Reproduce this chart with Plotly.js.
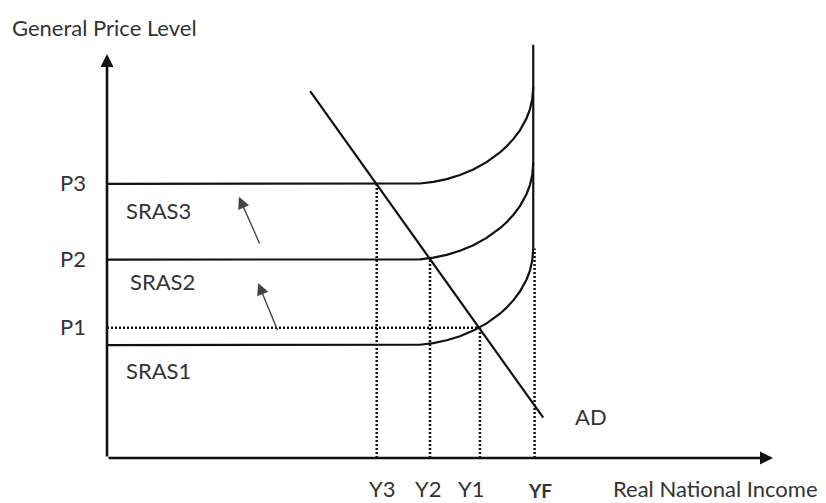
<!DOCTYPE html>
<html>
<head>
<meta charset="utf-8">
<script src="https://cdn.plot.ly/plotly-3.0.1.min.js"></script>
<style>html,body{margin:0;padding:0;background:#fff;}#chart{width:826px;height:503px;}</style>
</head>
<body>
<div id="chart"></div>
<script>
// Price levels and income levels (chart units)
const priceLabels = ["P1", "P2", "P3"];
const priceValues = [32.3, 49.2, 68.0];
const incomeLabels = ["Y3", "Y2", "Y1", "YF"];
const incomeValues = [40.5, 48.5, 56.0, 64.2];

// SRAS curves (flat, then bending up into vertical at full employment)
const srasX  = [0, 45, 47, 49, 51, 53, 55, 57, 59, 60, 61, 62, 63, 63.5, 63.85, 64];
const sras1Y = [28.0, 28.0, 28.1, 28.5, 29.2, 30.2, 31.6, 33.4, 35.8, 37.3, 39.1, 41.3, 44.3, 46.5, 49.0, 52.0];
const sras2Y = [49.2, 49.2, 49.3, 49.7, 50.4, 51.4, 52.8, 54.6, 57.0, 58.5, 60.3, 62.5, 65.5, 67.7, 70.2, 73.2];
const sras3Y = [68.0, 68.0, 68.1, 68.5, 69.2, 70.2, 71.6, 73.4, 75.8, 77.3, 79.1, 81.3, 84.3, 86.5, 89.0, 92.0];

// Vertical long-run supply at YF (solid part)
const lrasX = [64, 64];
const lrasY = [52.0, 102.5];

// Aggregate demand
const adX = [30.5, 65.5];
const adY = [91.0, 10.0];

// Shift arrows [tailX, tailY, headX, headY]
const shift1 = [25.7, 31.3, 22.7, 43.4];
const shift2 = [23.0, 52.9, 19.8, 64.8];

const X_MAX = 100, Y_MAX = 103.7;
const solid = {color: "#111", width: 2.2};
const dotted = {color: "#111", width: 2.5, dash: "2px,2px"};

const traces = [
  {x: srasX, y: sras1Y, mode: "lines", line: solid},
  {x: srasX, y: sras2Y, mode: "lines", line: solid},
  {x: srasX, y: sras3Y, mode: "lines", line: solid},
  {x: lrasX, y: lrasY, mode: "lines", line: solid},
  {x: adX, y: adY, mode: "lines", line: solid},
  // dotted guide lines
  {x: [0, incomeValues[2]], y: [priceValues[0], priceValues[0]], mode: "lines", line: dotted},
  {x: [incomeValues[0], incomeValues[0]], y: [0, priceValues[2]], mode: "lines", line: dotted},
  {x: [incomeValues[1], incomeValues[1]], y: [0, priceValues[1]], mode: "lines", line: dotted},
  {x: [incomeValues[2], incomeValues[2]], y: [0, priceValues[0]], mode: "lines", line: dotted},
  {x: [incomeValues[3], incomeValues[3]], y: [0, lrasY[0]], mode: "lines", line: dotted}
];

const fontFam = "Lato, 'Open Sans', sans-serif";
const txt = {family: fontFam, size: 22, color: "#333"};
const px = v => v / X_MAX, py = v => v / Y_MAX;

const ann = [];
// axes as arrows
ann.push({x: 0, y: 100.2, ax: 0, ay: 0, xref: "x", yref: "y", axref: "x", ayref: "y",
  showarrow: true, arrowhead: 2, arrowsize: 1, arrowwidth: 2.6, arrowcolor: "#111", text: ""});
ann.push({x: 100, y: 0, ax: 0, ay: 0, xref: "x", yref: "y", axref: "x", ayref: "y",
  showarrow: true, arrowhead: 2, arrowsize: 1, arrowwidth: 2.6, arrowcolor: "#111", text: ""});
// shift arrows
[shift1, shift2].forEach(s => ann.push({x: s[2], y: s[3], ax: s[0], ay: s[1],
  xref: "x", yref: "y", axref: "x", ayref: "y", showarrow: true, arrowhead: 2,
  arrowsize: 1.7, arrowwidth: 1.4, arrowcolor: "#444", text: ""}));
// price labels
priceLabels.forEach((t, i) => ann.push({x: px(-2.9), y: py(priceValues[i] + 0.3), xref: "paper", yref: "paper",
  text: t, showarrow: false, xanchor: "right", yanchor: "middle", font: txt}));
// income labels (bottom-anchored at the page edge)
const bottomY = -45 / 418;
const incomeLabelX = [41.4, 48.2, 54.7, 65.0];
incomeLabels.forEach((t, i) => ann.push({x: px(incomeLabelX[i]), y: bottomY, xref: "paper", yref: "paper",
  text: t === "YF" ? "<b>YF</b>" : t, showarrow: false, xanchor: "center", yanchor: "bottom", borderpad: 0,
  font: t === "YF" ? {family: fontFam, size: 19, color: "#333"} : txt}));
// other labels
ann.push({x: px(75.8), y: bottomY, xref: "paper", yref: "paper", text: "Real National Income", showarrow: false,
  xanchor: "left", yanchor: "bottom", borderpad: 0, font: txt});
ann.push({x: px(-14.56), y: py(106.9), xref: "paper", yref: "paper", text: "General Price Level", showarrow: false,
  xanchor: "left", yanchor: "middle", font: txt});
ann.push({x: 2.55, y: 61.3, xref: "x", yref: "y", text: "SRAS3", showarrow: false, xanchor: "left", yanchor: "middle", font: txt});
ann.push({x: 3.15, y: 43.9, xref: "x", yref: "y", text: "SRAS2", showarrow: false, xanchor: "left", yanchor: "middle", font: txt});
ann.push({x: 2.55, y: 21.8, xref: "x", yref: "y", text: "SRAS1", showarrow: false, xanchor: "left", yanchor: "middle", font: txt});
ann.push({x: 70.0, y: 10.4, xref: "x", yref: "y", text: "AD", showarrow: false, xanchor: "left", yanchor: "middle", font: txt});

const layout = {
  width: 826, height: 503,
  margin: {l: 107, r: 53, t: 40, b: 45},
  paper_bgcolor: "#fff", plot_bgcolor: "#fff",
  showlegend: false,
  xaxis: {range: [0, X_MAX], visible: false, fixedrange: true},
  yaxis: {range: [0, Y_MAX], visible: false, fixedrange: true},
  annotations: ann
};

Plotly.newPlot("chart", traces, layout, {displayModeBar: false, staticPlot: true});
</script>
</body>
</html>
